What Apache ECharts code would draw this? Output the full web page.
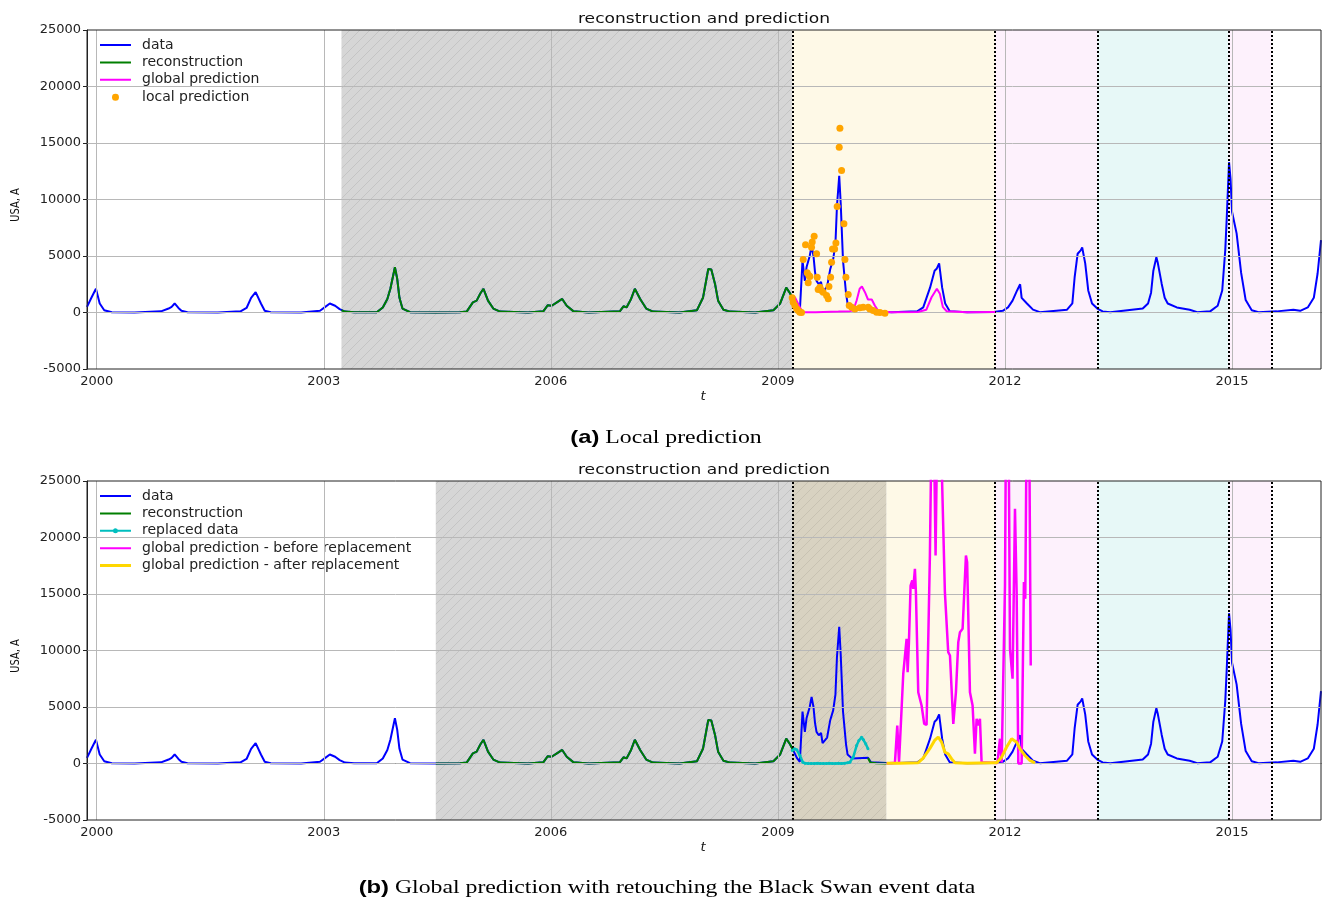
<!DOCTYPE html>
<html><head><meta charset="utf-8">
<script src="https://cdn.jsdelivr.net/npm/echarts@6/dist/echarts.min.js"></script>
<style>html,body{margin:0;padding:0;background:#fff}#c{width:1323px;height:903px}</style>
</head><body><div id="c"></div>
<script>
// ---------- data ----------
const xTicks = [2000, 2003, 2006, 2009, 2012, 2015];
const yTicks = [-5000, 0, 5000, 10000, 15000, 20000, 25000];
const xMin = 1999.872, xMax = 2016.175;

const usaData = [
[1999.872,500],[1999.93,1300],[1999.99,2100],[2000.04,800],[2000.10,200],[2000.20,30],[2000.50,0],
[2000.85,100],[2000.95,350],[2000.99,500],[2001.03,800],[2001.08,400],[2001.12,150],[2001.20,20],[2001.60,0],
[2001.90,100],[2001.98,400],[2002.04,1300],[2002.10,1800],[2002.17,800],[2002.22,150],[2002.30,20],[2002.70,0],
[2002.95,150],[2003.02,500],[2003.08,800],[2003.15,600],[2003.21,300],[2003.234,200],[2003.28,80],[2003.40,20],
[2003.70,20],[2003.78,450],[2003.84,1200],[2003.88,2100],[2003.94,4000],[2003.97,3000],[2004.00,1300],[2004.04,350],
[2004.14,30],[2004.48,0],[2004.80,20],[2004.89,100],[2004.97,900],[2005.02,1050],[2005.07,1700],[2005.11,2100],
[2005.17,1050],[2005.24,350],[2005.33,80],[2005.70,0],[2005.90,100],[2005.96,650],[2006.01,600],[2006.08,900],
[2006.15,1200],[2006.21,600],[2006.30,100],[2006.50,0],[2006.91,100],[2006.96,550],[2007.00,450],[2007.06,1200],
[2007.11,2100],[2007.18,1200],[2007.26,350],[2007.35,80],[2007.70,0],[2007.93,200],[2008.01,1300],[2008.08,3850],
[2008.12,3800],[2008.17,2500],[2008.21,1050],[2008.28,250],[2008.37,80],[2008.70,0],[2008.94,200],[2009.03,800],
[2009.11,2200],[2009.16,1700],[2009.20,1200],[2009.25,500],[2009.29,150],[2009.325,4600],[2009.356,2800],
[2009.378,4000],[2009.42,5000],[2009.445,5900],[2009.47,5000],[2009.49,3600],[2009.51,2800],[2009.54,2500],
[2009.57,2700],[2009.59,1800],[2009.65,2300],[2009.69,3800],[2009.73,4700],[2009.76,6100],[2009.78,9400],
[2009.81,12100],[2009.83,9600],[2009.86,4600],[2009.90,1700],[2009.92,800],[2009.98,450],[2010.19,500],
[2010.23,100],[2010.50,30],[2010.84,100],[2010.92,450],[2011.01,2200],[2011.07,3700],[2011.10,3900],[2011.13,4350],
[2011.17,2200],[2011.21,800],[2011.27,100],[2011.50,20],[2011.85,50],[2011.97,150],[2012.04,450],[2012.10,1050],
[2012.16,1950],[2012.20,2500],[2012.22,1300],[2012.29,800],[2012.37,250],[2012.46,30],[2012.82,250],[2012.89,800],
[2012.92,3100],[2012.96,5200],[2013.00,5500],[2013.02,5750],[2013.06,4350],[2013.10,1950],[2013.15,800],
[2013.22,350],[2013.29,100],[2013.39,30],[2013.82,350],[2013.89,800],[2013.93,1750],[2013.96,3700],[2014.00,4900],
[2014.02,4350],[2014.07,2550],[2014.11,1300],[2014.15,800],[2014.27,450],[2014.44,250],[2014.54,30],[2014.71,100],
[2014.81,600],[2014.87,1950],[2014.91,5500],[2014.93,8400],[2014.96,13300],[2014.98,11800],[2015.00,8900],
[2015.06,7000],[2015.12,3500],[2015.18,1100],[2015.26,200],[2015.35,30],[2015.59,100],[2015.81,250],[2015.90,150],
[2016.00,450],[2016.08,1300],[2016.13,3450],[2016.175,6400]
];

const localPrediction = [
[2009.189,1300],[2009.202,910],[2009.224,620],[2009.247,330],[2009.268,180],[2009.290,30],[2009.312,0],
[2009.334,4690],[2009.365,5990],[2009.387,3510],[2009.400,2630],[2009.409,3270],[2009.422,3190],[2009.444,5780],
[2009.453,6250],[2009.479,6750],[2009.511,5190],[2009.519,3130],[2009.532,2040],[2009.555,2240],[2009.577,1950],
[2009.598,1800],[2009.643,1500],[2009.665,1210],[2009.674,2300],[2009.696,3130],[2009.709,4450],[2009.722,5630],
[2009.749,5630],[2009.766,6140],[2009.783,9380],[2009.810,14630],[2009.819,16310],[2009.841,12570],[2009.872,7850],
[2009.885,4690],[2009.898,3130],[2009.929,1590],[2009.942,620],[2009.974,470],[2010.017,320],[2010.083,410],
[2010.127,470],[2010.193,470],[2010.215,320],[2010.259,180],[2010.304,30],[2010.348,0],[2010.414,-60]
];

const globalPredictionA = [
[2009.189,1200],[2009.224,1350],[2009.29,470],[2009.33,30],[2009.50,30],[2009.80,80],[2009.95,120],
[2009.995,180],[2010.04,1060],[2010.08,2100],[2010.11,2300],[2010.15,1800],[2010.19,1150],[2010.24,1150],
[2010.28,620],[2010.33,110],[2010.50,30],[2010.85,50],[2010.96,240],[2011.03,1350],[2011.10,2100],[2011.14,1650],
[2011.18,470],[2011.23,110],[2011.50,30],[2011.87,50]
];

const replacedData = [
[2009.19,1150],[2009.22,1300],[2009.25,1210],[2009.29,710],[2009.33,110],[2009.36,20],[2009.40,0],[2009.44,10],
[2009.48,0],[2009.52,20],[2009.56,0],[2009.60,10],[2009.64,0],[2009.68,20],[2009.72,0],[2009.76,10],[2009.80,20],
[2009.84,0],[2009.88,30],[2009.92,60],[2009.95,110],[2009.995,560],[2010.04,1590],[2010.07,2040],[2010.105,2330],
[2010.13,2100],[2010.16,1740],[2010.19,1300]
];

const reconstructionTailB = [[2010.19,500],[2010.22,100],[2010.30,30],[2010.436,0]];

const globalBefore = [
[2010.436,0],[2010.546,60],[2010.577,3360],[2010.60,100],[2010.634,4840],[2010.656,7940],[2010.678,8080],
[2010.70,11030],[2010.714,8080],[2010.731,10740],[2010.753,15750],[2010.775,16200],[2010.788,15460],
[2010.81,17230],[2010.823,15160],[2010.854,6310],[2010.898,5130],[2010.933,3510],[2010.964,3420],
[2011.008,18400],[2011.03,30000],[2011.06,30000],[2011.083,18400],[2011.105,30000],[2011.15,30000],
[2011.206,15160],[2011.25,9850],[2011.273,9560],[2011.317,3510],[2011.352,6310],[2011.383,10740],
[2011.405,11620],[2011.44,11920],[2011.484,18400],[2011.50,17810],[2011.537,6310],[2011.572,5130],
[2011.603,860],[2011.625,3950],[2011.647,3360],[2011.669,3950],[2011.691,100],[2011.90,50],[2011.934,2190],
[2011.956,100],[2012.0,15750],[2012.013,30000],[2012.048,30000],[2012.066,10150],[2012.10,7500],
[2012.132,22540],[2012.154,15160],[2012.176,0],[2012.22,0],[2012.25,16050],[2012.268,14570],[2012.286,30000],
[2012.32,30000],[2012.34,8670]
];

const globalAfter = [
[2010.436,30],[2010.60,30],[2010.85,60],[2010.916,450],[2011.008,1330],[2011.07,2040],[2011.118,2330],
[2011.163,1890],[2011.206,1000],[2011.25,860],[2011.295,410],[2011.339,60],[2011.50,30],[2011.85,60],
[2011.89,60],[2011.956,560],[2012.02,1440],[2012.088,2190],[2012.11,2240],[2012.154,1890],[2012.198,1300],
[2012.264,710],[2012.33,270],[2012.396,60]
];

const dottedLines = [2009.19, 2011.87, 2013.22, 2014.95, 2015.52];
const regionsA = [[2003.234,2009.19,'gray'],[2009.19,2011.87,'yellow'],[2011.87,2013.22,'pink'],[2013.22,2014.95,'cyan'],[2014.95,2015.52,'pink']];
const regionsB = [[2004.48,2009.19,'gray'],[2009.19,2010.436,'tan'],[2010.436,2011.87,'yellow'],[2011.87,2013.22,'pink'],[2013.22,2014.95,'cyan'],[2014.95,2015.52,'pink']];
const reconRangeA = [2003.234, 2009.20];
const reconRangeB = [2004.48, 2009.20];

// ---------- styling ----------
function hatch(bg, fg) {
  const c = document.createElement('canvas'); c.width = 10; c.height = 10;
  const g = c.getContext('2d'); g.fillStyle = bg; g.fillRect(0, 0, 10, 10);
  g.strokeStyle = fg; g.lineWidth = 1;
  g.beginPath();
  g.moveTo(-1, 11); g.lineTo(11, -1);
  g.moveTo(-6, 6); g.lineTo(6, -6);
  g.moveTo(4, 16); g.lineTo(16, 4);
  g.stroke();
  return { image: c, repeat: 'repeat' };
}
const regionColor = {
  gray: hatch('#d6d6d6', '#c4c4c4'),
  tan: hatch('#d8d2c1', '#c8c2b2'),
  yellow: '#fef9e7',
  pink: '#fdf1fc',
  cyan: '#e7f8f7'
};
const FONT = 'DejaVu Sans';
const BOX = 'M0,0h.01v.01h-.01z M31,14h.01v.01h-.01z ';
const lineIcon = 'path://' + BOX + 'M0,6h31v2h-31z';
const thickLineIcon = 'path://' + BOX + 'M0,5.5h31v3h-31z';
const dotIcon = 'path://' + BOX + 'M12,7a3.5,3.5 0 1,1 7,0a3.5,3.5 0 1,1 -7,0z';
const lineDotIcon = 'path://' + BOX + 'M0,6h31v2h-31z M13,7a2.5,2.5 0 1,1 5,0a2.5,2.5 0 1,1 -5,0z';

const inRange = (r) => usaData.filter(p => p[0] >= r[0] && p[0] <= r[1]);

function panelAxes(i) {
  return {
    x: {
      gridIndex: i, type: 'value', min: xMin, max: xMax,
      axisLine: { show: true, lineStyle: { color: '#222', width: 1 } },
      axisTick: { show: true, customValues: xTicks, length: 4, lineStyle: { color: '#222' } },
      axisLabel: { customValues: xTicks, margin: 6, fontSize: 13, color: '#222', fontFamily: FONT, formatter: v => String(Math.round(v)) },
      splitLine: { show: false }
    },
    y: {
      gridIndex: i, type: 'value', min: -5000, max: 25000, interval: 5000,
      axisLine: { show: true, lineStyle: { color: '#222', width: 1 } },
      axisTick: { show: true, length: 4, lineStyle: { color: '#222' } },
      axisLabel: { margin: 6, fontSize: 13, color: '#222', fontFamily: FONT, formatter: v => String(v) },
      splitLine: { show: false }
    }
  };
}

function baseSeries(i, regions) {
  return [
    { type: 'line', xAxisIndex: i, yAxisIndex: i, data: [], z: 0, silent: true,
      markArea: { silent: true, data: regions.map(r => [{ xAxis: r[0], itemStyle: { color: regionColor[r[2]] } }, { xAxis: r[1] }]) } },
    { type: 'line', xAxisIndex: i, yAxisIndex: i, data: [], z: 1, silent: true,
      markLine: { silent: true, symbol: 'none', label: { show: false },
        lineStyle: { color: '#b8b8b8', width: 1, type: 'solid' },
        data: xTicks.map(v => ({ xAxis: v })).concat(yTicks.slice(1, -1).map(v => ({ yAxis: v }))) } },
    { type: 'line', xAxisIndex: i, yAxisIndex: i, data: [], z: 2, silent: true,
      markLine: { silent: true, symbol: 'none', label: { show: false },
        lineStyle: { color: '#000', width: 2, type: [2, 2] },
        data: dottedLines.map(v => ({ xAxis: v })) } }
  ];
}
function lineS(i, name, data, color, width, z, extra) {
  return Object.assign({ type: 'line', name, xAxisIndex: i, yAxisIndex: i, data, symbol: 'none', z,
    itemStyle: { color }, lineStyle: { color, width }, clip: true }, extra || {});
}

const a = panelAxes(0), b = panelAxes(1);
const legendCommon = { orient: 'vertical', left: 100, padding: 0, itemWidth: 31, itemHeight: 14, itemGap: 3.4,
  selectedMode: false, textStyle: { fontSize: 14, color: '#222', fontFamily: FONT, padding: [0, 0, 0, 6] } };

function txt(x, y, text, size, extra, style) {
  return Object.assign({ type: 'text', x, y, style: Object.assign({ text, fontSize: size, fontFamily: FONT, fill: '#111',
    textAlign: 'center', textVerticalAlign: 'middle' }, style || {}) }, extra || {});
}
const capRich = { b: { fontFamily: 'Liberation Sans', fontWeight: 'bold', fontSize: 19, fill: '#000' },
                  s: { fontFamily: 'Liberation Serif', fontSize: 19, fill: '#000' } };

const option = {
  animation: false,
  backgroundColor: '#fff',
  grid: [
    { left: 87, right: 2, top: 30, height: 339, show: true, borderColor: '#222', borderWidth: 1, z: 6, backgroundColor: 'transparent' },
    { left: 87, right: 2, top: 481, height: 339, show: true, borderColor: '#222', borderWidth: 1, z: 6, backgroundColor: 'transparent' }
  ],
  xAxis: [a.x, b.x],
  yAxis: [a.y, b.y],
  legend: [
    Object.assign({}, legendCommon, { top: 38, data: [
      { name: 'data', icon: lineIcon }, { name: 'reconstruction', icon: lineIcon },
      { name: 'global prediction', icon: lineIcon }, { name: 'local prediction', icon: dotIcon }] }),
    Object.assign({}, legendCommon, { top: 489, data: [
      { name: 'data', icon: lineIcon }, { name: 'reconstruction', icon: lineIcon },
      { name: 'replaced data', icon: lineDotIcon },
      { name: 'global prediction - before replacement', icon: lineIcon },
      { name: 'global prediction - after replacement', icon: thickLineIcon }] })
  ],
  series: [].concat(
    baseSeries(0, regionsA),
    [
      lineS(0, 'data', usaData, '#0000ff', 2, 3),
      lineS(0, 'reconstruction', inRange(reconRangeA), '#007f00', 2, 4),
      lineS(0, 'global prediction', globalPredictionA, '#ff00ff', 2, 5),
      { type: 'scatter', name: 'local prediction', xAxisIndex: 0, yAxisIndex: 0, data: localPrediction, symbolSize: 7, z: 6,
        itemStyle: { color: '#ffa500', opacity: 1 } }
    ],
    baseSeries(1, regionsB),
    [
      lineS(1, 'data', usaData, '#0000ff', 2, 3),
      lineS(1, 'reconstruction', inRange(reconRangeB), '#007f00', 2, 4),
      lineS(1, 'reconstruction', reconstructionTailB, '#007f00', 2, 4),
      lineS(1, 'replaced data', replacedData, '#00bfbf', 2.5, 5, { symbol: 'circle', symbolSize: 3, showSymbol: true }),
      lineS(1, 'global prediction - before replacement', globalBefore, '#ff00ff', 2.5, 6),
      lineS(1, 'global prediction - after replacement', globalAfter, '#ffd700', 3, 7)
    ]
  ),
  graphic: [
    txt(704, 19, 'reconstruction and prediction', 14, { scaleX: 1.22 }),
    txt(704, 470, 'reconstruction and prediction', 14, { scaleX: 1.22 }),
    txt(703, 397, 't', 13, {}, { fontStyle: 'italic' }),
    txt(703, 848, 't', 13, {}, { fontStyle: 'italic' }),
    txt(16, 205, 'USA, A', 12, { rotation: Math.PI / 2, scaleX: 0.82 }),
    txt(16, 656, 'USA, A', 12, { rotation: Math.PI / 2, scaleX: 0.82 }),
    txt(666, 438, '{b|(a)} {s|Local prediction}', 19, { scaleX: 1.25 }, { fill: '#000', fontFamily: 'Liberation Serif', rich: capRich }),
    txt(667, 888, '{b|(b)} {s|Global prediction with retouching the Black Swan event data}', 19, { scaleX: 1.25 }, { fill: '#000', fontFamily: 'Liberation Serif', rich: capRich })
  ]
};
const chart = echarts.init(document.getElementById('c'), null, { renderer: 'canvas' });
chart.setOption(option);
</script></body></html>
